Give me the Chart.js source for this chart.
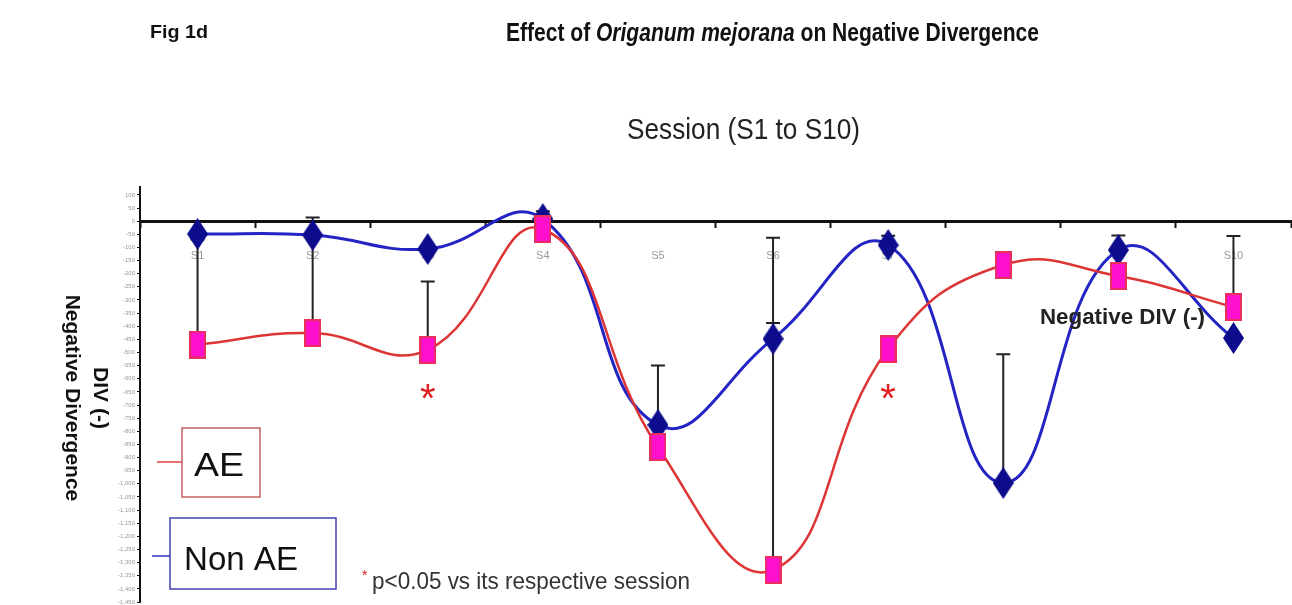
<!DOCTYPE html>
<html>
<head>
<meta charset="utf-8">
<script src="https://cdn.jsdelivr.net/npm/chart.js@4"></script>
<style>
  html, body { margin: 0; padding: 0; background: #fff; overflow: hidden; }
  #wrap { width: 1304px; height: 615px; position: relative; }
</style>
</head>
<body>
<div id="wrap"><canvas id="chart"></canvas></div>
<script>
const sessions = ["S1", "S2", "S3", "S4", "S5", "S6", "S7", "S8", "S9", "S10"];
const aeValues = [-470, -426, -490, -30, -860, -1328, -487, -167, -209, -327];
const nonAeValues = [-49, -53, -106, 8, -776, -448, -91, -997, -110, -445];
// upward error bars (length in data units), 0 = none shown
const aeErrors = [400, 440, 260, 0, 310, 1265, 0, 0, 0, 270];
const nonAeErrors = [0, 0, 0, 30, 0, 60, 35, 490, 55, 0];
const yTicks = [100, 50, 0, -50, -100, -150, -200, -250, -300, -350, -400, -450, -500, -550, -600, -650,
  -700, -750, -800, -850, -900, -950, -1000, -1050, -1100, -1150, -1200, -1250, -1300, -1350, -1400, -1450];
const starSessions = ["S3", "S7"];

const SANS = '"Liberation Sans", Arial, sans-serif';

function rectMarker(w, h, fill, stroke) {
    const c = document.createElement("canvas");
    c.width = w; c.height = h;
    const g = c.getContext("2d");
    g.fillStyle = fill; g.fillRect(0, 0, w, h);
    g.strokeStyle = stroke; g.lineWidth = 2; g.strokeRect(1, 1, w - 2, h - 2);
    return c;
}
function diamondMarker(w, h, fill) {
    const c = document.createElement("canvas");
    c.width = w; c.height = h;
    const g = c.getContext("2d");
    g.fillStyle = fill;
    g.beginPath(); g.moveTo(w / 2, 0); g.lineTo(w, h / 2); g.lineTo(w / 2, h); g.lineTo(0, h / 2); g.closePath();
    g.fill();
    return c;
}

// draw text squeezed horizontally to a given width (narrow font look)
function fitText(ctx, parts, x, y, width) {
    let total = 0;
    parts.forEach(([t, f]) => { ctx.font = f; total += ctx.measureText(t).width; });
    ctx.save(); ctx.translate(x, y); ctx.scale(width / total, 1);
    let tx = 0;
    parts.forEach(([t, f]) => { ctx.font = f; ctx.fillText(t, tx, 0); tx += ctx.measureText(t).width; });
    ctx.restore();
}

const errorBars = {
    id: "errorBars",
    beforeDatasetsDraw(chart) {
        const { ctx, scales: { x, y } } = chart;
        ctx.save();
        ctx.strokeStyle = "#222"; ctx.lineWidth = 2;
        [[aeValues, aeErrors], [nonAeValues, nonAeErrors]].forEach(([vals, errs]) => {
            vals.forEach((v, i) => {
                if (!errs[i]) return;
                const px = x.getPixelForValue(i);
                const y0 = y.getPixelForValue(v), y1 = y.getPixelForValue(v + errs[i]);
                ctx.beginPath(); ctx.moveTo(px, y0); ctx.lineTo(px, y1);
                ctx.moveTo(px - 7, y1); ctx.lineTo(px + 7, y1); ctx.stroke();
            });
        });
        ctx.restore();
    }
};

const annotations = {
    id: "annotations",
    afterDraw(chart) {
        const { ctx, scales: { x } } = chart;
        ctx.save();
        ctx.textBaseline = "alphabetic";
        ctx.textAlign = "left";
        ctx.fillStyle = "#111";
        fitText(ctx, [["Fig 1d", `bold 19px ${SANS}`]], 150, 38, 58);
        fitText(ctx, [["Effect of ", `bold 25px ${SANS}`], ["Origanum mejorana", `italic bold 25px ${SANS}`],
            [" on Negative Divergence", `bold 25px ${SANS}`]], 506, 41, 533);
        ctx.fillStyle = "#222";
        fitText(ctx, [["Session (S1 to S10)", `29px ${SANS}`]], 627, 139, 233);

        // y axis title, read top to bottom
        ctx.fillStyle = "#111";
        ctx.textAlign = "center";
        ctx.font = `bold 21px ${SANS}`;
        ctx.save(); ctx.translate(66, 398); ctx.rotate(Math.PI / 2);
        ctx.fillText("Negative Divergence", 0, 0); ctx.restore();
        ctx.save(); ctx.translate(94, 398); ctx.rotate(Math.PI / 2);
        ctx.fillText("DIV (-)", 0, 0); ctx.restore();

        // in-plot label
        ctx.textAlign = "left";
        ctx.fillStyle = "#222";
        fitText(ctx, [["Negative DIV (-)", `bold 22px ${SANS}`]], 1040, 324, 165);

        // significance stars
        ctx.fillStyle = "#e02020";
        ctx.font = `40px ${SANS}`;
        ctx.textAlign = "center";
        starSessions.forEach((s) => {
            ctx.fillText("*", x.getPixelForValue(sessions.indexOf(s)), 412);
        });

        // legend boxes
        ctx.lineWidth = 1.5;
        ctx.strokeStyle = "#e04040";
        ctx.beginPath(); ctx.moveTo(157, 462); ctx.lineTo(182, 462); ctx.stroke();
        ctx.strokeStyle = "#c06060";
        ctx.strokeRect(182, 428, 78, 69);
        ctx.strokeStyle = "#3030c0";
        ctx.beginPath(); ctx.moveTo(152, 556); ctx.lineTo(170, 556); ctx.stroke();
        ctx.strokeStyle = "#4040b0";
        ctx.strokeRect(170, 518, 166, 71);
        ctx.fillStyle = "#111";
        ctx.textAlign = "left";
        fitText(ctx, [["AE", `34px ${SANS}`]], 194, 476, 50);
        fitText(ctx, [["Non AE", `34px ${SANS}`]], 184, 570, 114);

        // footnote
        ctx.fillStyle = "#e02020";
        ctx.font = `14px ${SANS}`;
        ctx.fillText("*", 362, 580);
        ctx.fillStyle = "#333";
        fitText(ctx, [["p<0.05 vs its respective session", `24px ${SANS}`]], 372, 589, 318);
        ctx.restore();
    }
};

new Chart(document.getElementById("chart"), {
    type: "line",
    data: {
        labels: sessions,
        datasets: [
            {
                label: "AE", data: aeValues,
                borderColor: "#dd3535", borderWidth: 2.5, tension: 0.45,
                pointStyle: rectMarker(17, 28, "#ff10cc", "#e8305a"),
                pointRadius: 10, pointHoverRadius: 10,
            },
            {
                label: "Non AE", data: nonAeValues,
                borderColor: "#2424c4", borderWidth: 3, tension: 0.45,
                pointStyle: diamondMarker(21, 32, "#0c0c8c"),
                pointRadius: 10, pointHoverRadius: 10,
            },
        ],
    },
    options: {
        responsive: true, maintainAspectRatio: false, animation: false,
        layout: { padding: { top: 187, right: 0, bottom: 0, left: 0 } },
        plugins: { legend: { display: false }, tooltip: { enabled: false } },
        scales: {
            x: {
                position: { y: 0 }, offset: true,
                grid: { drawOnChartArea: false, offset: true, tickLength: 5, color: "#111", tickWidth: 2 },
                border: { color: "#111", width: 3 },
                ticks: { color: "#9a9a9a", font: { family: SANS, size: 11 }, padding: 23 },
            },
            y: {
                min: -1450, max: 130,
                afterFit(scale) { scale.width = 140; },
                afterBuildTicks(scale) { scale.ticks = yTicks.map((v) => ({ value: v })); },
                grid: { drawOnChartArea: false, tickLength: 3, color: "#111" },
                border: { color: "#111", width: 2 },
                ticks: { autoSkip: false, color: "#999", font: { family: SANS, size: 6 }, padding: 2 },
            },
        },
    },
    plugins: [errorBars, annotations],
});
</script>
</body>
</html>
